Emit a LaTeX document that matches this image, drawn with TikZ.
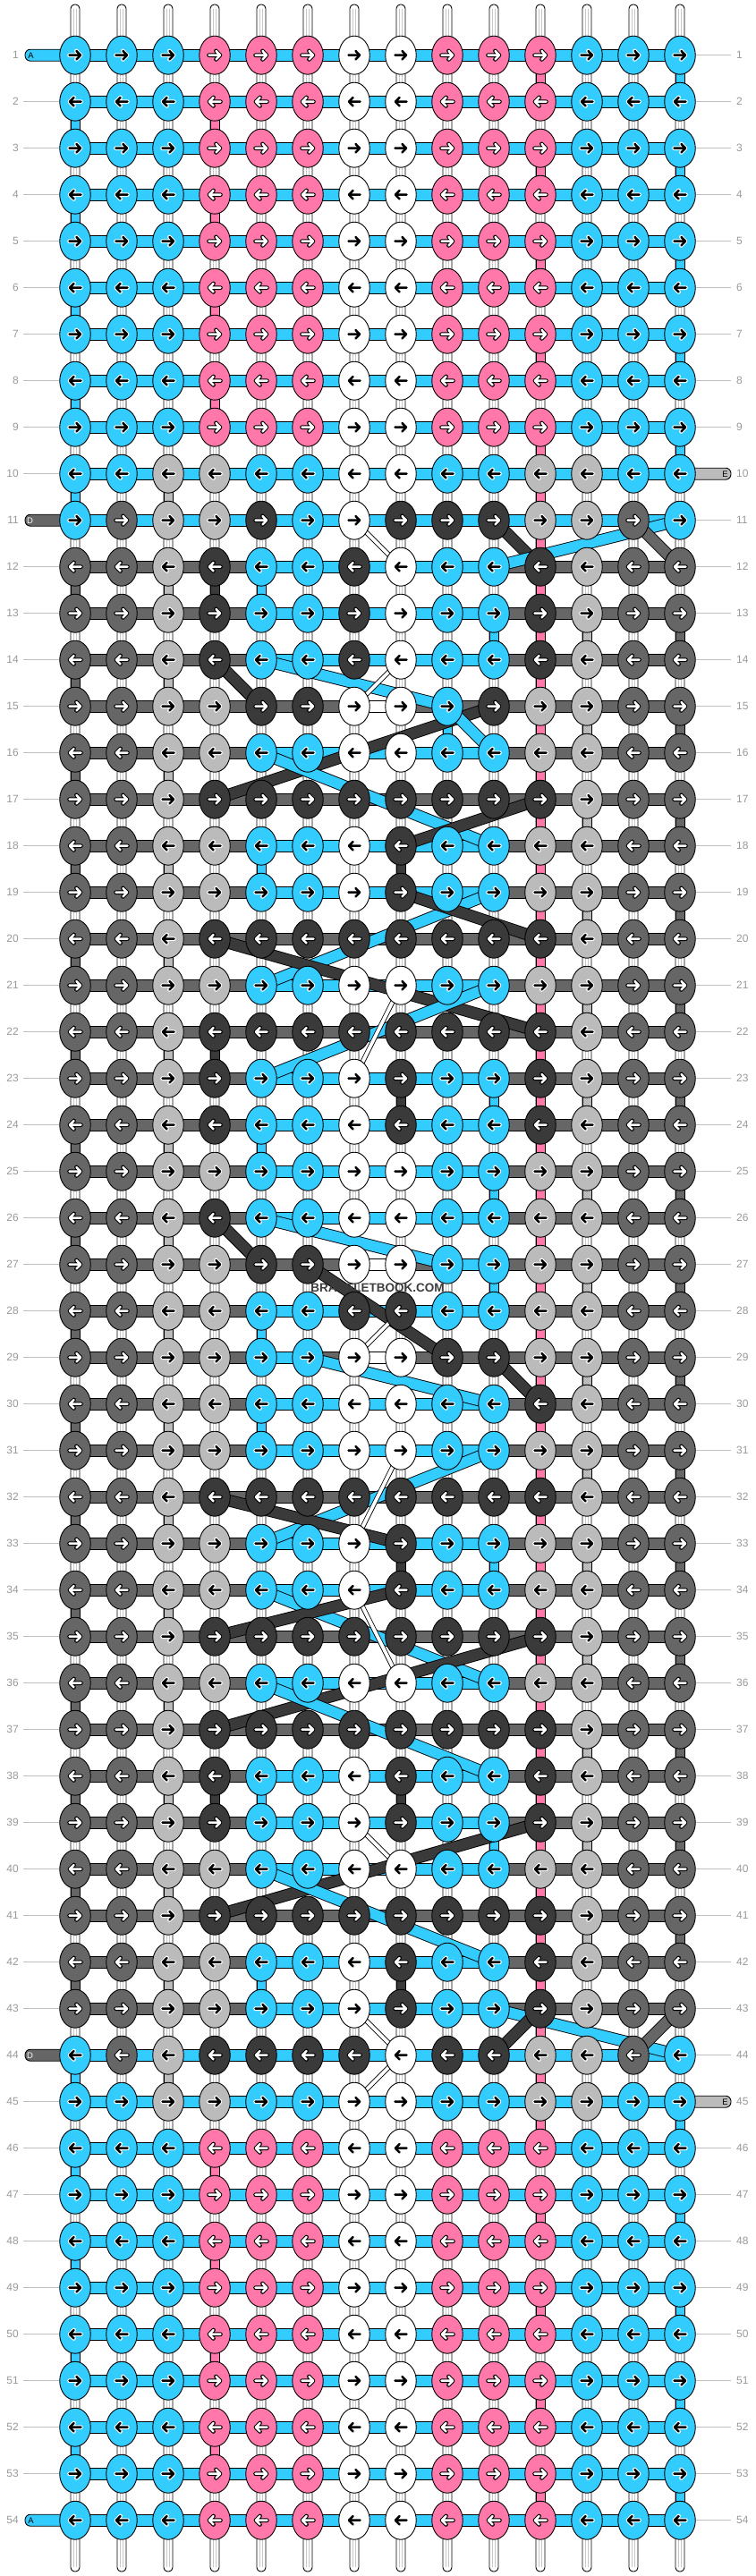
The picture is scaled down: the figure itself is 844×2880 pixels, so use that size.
\documentclass[tikz,border=0pt]{standalone}
\usepackage{fontspec}
\setmainfont{Liberation Sans}
\usetikzlibrary{shapes.geometric}
\definecolor{cB}{HTML}{33CCFF}
\definecolor{cP}{HTML}{FF78A9}
\definecolor{cW}{HTML}{FFFFFF}
\definecolor{cL}{HTML}{BBBBBB}
\definecolor{cM}{HTML}{666666}
\definecolor{cD}{HTML}{3A3A3A}
\colorlet{aB}{black}\colorlet{aW}{black}\colorlet{aL}{black}
\colorlet{aP}{white}\colorlet{aM}{white}\colorlet{aD}{white}
\colorlet{oB}{white}\colorlet{oW}{white}\colorlet{oL}{white}
\colorlet{oP}{black}\colorlet{oM}{black}\colorlet{oD}{black}
\definecolor{lbl}{HTML}{999999}
\definecolor{lln}{HTML}{BFBFBF}
\definecolor{vln}{HTML}{C8C8C8}
\definecolor{wm}{HTML}{3C3C3C}
\pgfdeclarelayer{paper}
\pgfdeclarelayer{strings}
\pgfdeclarelayer{diag}
\pgfsetlayers{paper,strings,diag,main}
\def\WW{W}
\begin{document}
\begin{tikzpicture}[x=1pt,y=-1pt,
  knot/.style={ellipse, draw=black, line width=0.9pt, minimum width=34.5pt, minimum height=43pt, inner sep=0pt},
  arr/.style={line cap=round, line join=round},
  seg/.style={draw=black, line width=0.9pt},
  lblnode/.style={text=lbl, font=\fontsize{12}{12}\selectfont, inner sep=0pt},
  lblline/.style={draw=lln, line width=1pt},
  endletter/.style={font=\fontsize{9.5}{9.5}\selectfont, inner sep=0pt}]
\useasboundingbox (0,0) rectangle (844,2880);
\begin{pgfonlayer}{paper}
\fill[white] (0,0) rectangle (844,2880);
\end{pgfonlayer}
% ---------------- knots ----------------
\foreach \r/\row/\hs in {
1/{B,B,B,P,P,P,W,W,P,P,P,B,B,B}/{B,B,B,B,B,B,B,B,B,B,B,B,B},
2/{B,B,B,P,P,P,W,W,P,P,P,B,B,B}/{B,B,B,B,B,B,B,B,B,B,B,B,B},
3/{B,B,B,P,P,P,W,W,P,P,P,B,B,B}/{B,B,B,B,B,B,B,B,B,B,B,B,B},
4/{B,B,B,P,P,P,W,W,P,P,P,B,B,B}/{B,B,B,B,B,B,B,B,B,B,B,B,B},
5/{B,B,B,P,P,P,W,W,P,P,P,B,B,B}/{B,B,B,B,B,B,B,B,B,B,B,B,B},
6/{B,B,B,P,P,P,W,W,P,P,P,B,B,B}/{B,B,B,B,B,B,B,B,B,B,B,B,B},
7/{B,B,B,P,P,P,W,W,P,P,P,B,B,B}/{B,B,B,B,B,B,B,B,B,B,B,B,B},
8/{B,B,B,P,P,P,W,W,P,P,P,B,B,B}/{B,B,B,B,B,B,B,B,B,B,B,B,B},
9/{B,B,B,P,P,P,W,W,P,P,P,B,B,B}/{B,B,B,B,B,B,B,B,B,B,B,B,B},
10/{B,B,L,L,B,B,W,W,B,B,L,L,B,B}/{B,B,B,B,B,B,B,B,B,B,B,B,B},
11/{B,M,L,L,D,B,W,D,D,D,L,L,M,B}/{B,B,B,B,B,B,B,B,B,B,B,B,B},
12/{M,M,L,D,B,B,D,W,B,B,D,L,M,M}/{M,M,M,M,B,B,B,B,B,M,M,M,M},
13/{M,M,L,D,B,B,D,W,B,B,D,L,M,M}/{M,M,M,M,B,B,B,B,B,M,M,M,M},
14/{M,M,L,D,B,B,D,W,B,B,D,L,M,M}/{M,M,M,M,B,B,B,B,B,M,M,M,M},
15/{M,M,L,L,D,D,W,W,B,D,L,L,M,M}/{M,M,M,M,M,M,W,M,M,M,M,M,M},
16/{M,M,L,L,B,B,W,W,B,B,L,L,M,M}/{M,M,M,M,B,B,B,B,B,M,M,M,M},
17/{M,M,L,D,D,D,D,D,D,D,D,L,M,M}/{M,M,M,M,M,M,M,M,M,M,M,M,M},
18/{M,M,L,L,B,B,W,D,B,B,L,L,M,M}/{M,M,M,M,B,B,B,B,B,M,M,M,M},
19/{M,M,L,L,B,B,W,D,B,B,L,L,M,M}/{M,M,M,M,B,B,B,B,B,M,M,M,M},
20/{M,M,L,D,D,D,D,D,D,D,D,L,M,M}/{M,M,M,M,M,M,M,M,M,M,M,M,M},
21/{M,M,L,L,B,B,W,W,B,B,L,L,M,M}/{M,M,M,M,B,B,B,B,B,M,M,M,M},
22/{M,M,L,D,D,D,D,D,D,D,D,L,M,M}/{M,M,M,M,M,M,M,M,M,M,M,M,M},
23/{M,M,L,D,B,B,W,D,B,B,D,L,M,M}/{M,M,M,M,B,B,B,B,B,M,M,M,M},
24/{M,M,L,D,B,B,W,D,B,B,D,L,M,M}/{M,M,M,M,B,B,B,B,B,M,M,M,M},
25/{M,M,L,L,B,B,W,W,B,B,L,L,M,M}/{M,M,M,M,B,B,B,B,B,M,M,M,M},
26/{M,M,L,D,B,B,W,W,B,B,L,L,M,M}/{M,M,M,M,B,B,B,B,B,M,M,M,M},
27/{M,M,L,L,D,D,W,W,B,B,L,L,M,M}/{M,M,M,M,M,M,W,M,B,M,M,M,M},
28/{M,M,L,L,B,B,D,D,B,B,L,L,M,M}/{M,M,M,M,B,B,B,B,B,M,M,M,M},
29/{M,M,L,L,B,B,W,W,D,D,L,L,M,M}/{M,M,M,M,B,M,W,M,M,M,M,M,M},
30/{M,M,L,L,B,B,W,W,B,B,D,L,M,M}/{M,M,M,M,B,B,B,B,B,M,M,M,M},
31/{M,M,L,L,B,B,W,W,B,B,L,L,M,M}/{M,M,M,M,B,B,B,B,B,M,M,M,M},
32/{M,M,L,D,D,D,D,D,D,D,D,L,M,M}/{M,M,M,M,M,M,M,M,M,M,M,M,M},
33/{M,M,L,L,B,B,W,D,B,B,L,L,M,M}/{M,M,M,M,B,B,B,B,B,M,M,M,M},
34/{M,M,L,L,B,B,W,D,B,B,L,L,M,M}/{M,M,M,M,B,B,B,B,B,M,M,M,M},
35/{M,M,L,D,D,D,D,D,D,D,D,L,M,M}/{M,M,M,M,M,M,M,M,M,M,M,M,M},
36/{M,M,L,L,B,B,W,W,B,B,L,L,M,M}/{M,M,M,M,B,B,B,B,B,M,M,M,M},
37/{M,M,L,D,D,D,D,D,D,D,D,L,M,M}/{M,M,M,M,M,M,M,M,M,M,M,M,M},
38/{M,M,L,D,B,B,W,D,B,B,D,L,M,M}/{M,M,M,M,B,B,B,B,B,M,M,M,M},
39/{M,M,L,D,B,B,W,D,B,B,D,L,M,M}/{M,M,M,M,B,B,B,B,B,M,M,M,M},
40/{M,M,L,L,B,B,W,W,B,B,L,L,M,M}/{M,M,M,M,B,B,B,B,B,M,M,M,M},
41/{M,M,L,D,D,D,D,D,D,D,D,L,M,M}/{M,M,M,M,M,M,M,M,M,M,M,M,M},
42/{M,M,L,L,B,B,W,D,B,B,D,L,M,M}/{M,M,M,M,B,B,B,B,B,M,M,M,M},
43/{M,M,L,L,B,B,W,D,B,B,D,L,M,M}/{M,M,M,M,B,B,B,B,B,M,M,M,M},
44/{B,M,L,D,D,D,D,W,D,D,L,L,M,B}/{B,B,B,B,B,B,B,B,B,B,B,B,B},
45/{B,B,L,L,B,B,W,W,B,B,L,L,B,B}/{B,B,B,B,B,B,B,B,B,B,B,B,B},
46/{B,B,B,P,P,P,W,W,P,P,P,B,B,B}/{B,B,B,B,B,B,B,B,B,B,B,B,B},
47/{B,B,B,P,P,P,W,W,P,P,P,B,B,B}/{B,B,B,B,B,B,B,B,B,B,B,B,B},
48/{B,B,B,P,P,P,W,W,P,P,P,B,B,B}/{B,B,B,B,B,B,B,B,B,B,B,B,B},
49/{B,B,B,P,P,P,W,W,P,P,P,B,B,B}/{B,B,B,B,B,B,B,B,B,B,B,B,B},
50/{B,B,B,P,P,P,W,W,P,P,P,B,B,B}/{B,B,B,B,B,B,B,B,B,B,B,B,B},
51/{B,B,B,P,P,P,W,W,P,P,P,B,B,B}/{B,B,B,B,B,B,B,B,B,B,B,B,B},
52/{B,B,B,P,P,P,W,W,P,P,P,B,B,B}/{B,B,B,B,B,B,B,B,B,B,B,B,B},
53/{B,B,B,P,P,P,W,W,P,P,P,B,B,B}/{B,B,B,B,B,B,B,B,B,B,B,B,B},
54/{B,B,B,P,P,P,W,W,P,P,P,B,B,B}/{B,B,B,B,B,B,B,B,B,B,B,B,B}}{%
  \expandafter\xdef\csname hs-\r\endcsname{\hs}%
  \pgfmathsetmacro\yy{61.7+52*(\r-1)}%
  \ifodd\r\relax \def\dir{1}\else \def\dir{-1}\fi
  \foreach \k [count=\c] in \row {%
    \pgfmathsetmacro\xx{84+52*(\c-1)}%
    \expandafter\xdef\csname kc-\r-\c\endcsname{\k}%
    \node[knot, fill=c\k] (k-\r-\c) at (\xx,\yy) {};
    \begin{scope}[shift={(\xx,\yy)}, xscale=\dir]
      \draw[arr, draw=o\k, line width=4.6pt] (-6.5,0) -- (6,0) (1.4,-4.8) -- (6,0) -- (1.4,4.8);
      \draw[arr, draw=a\k, line width=2.5pt] (-6.5,0) -- (6,0) (1.4,-4.8) -- (6,0) -- (1.4,4.8);
    \end{scope}
  }%
}
% ---------------- background strings ----------------
\begin{pgfonlayer}{strings}
% vertical strings (full length)
\foreach \c in {1,...,14}{%
  \draw[fill=white, draw=black, line width=0.9pt, rounded corners=4.5pt]
    ([xshift=-5pt,yshift=56.7pt]k-1-\c.center) rectangle ([xshift=5pt,yshift=-57.3pt]k-54-\c.center);
  \draw[draw=vln, line width=0.8pt]
    ([xshift=-1.7pt,yshift=52pt]k-1-\c.center) -- ([xshift=-1.7pt,yshift=-52pt]k-54-\c.center)
    ([xshift=1.7pt,yshift=52pt]k-1-\c.center) -- ([xshift=1.7pt,yshift=-52pt]k-54-\c.center);
}
% solid vertical segments
\foreach \r in {1,...,53}{%
  \pgfmathtruncatemacro\rn{\r+1}%
  \foreach \c in {1,...,14}{%
    \pgfmathtruncatemacro\cp{\c-1}%
    \pgfmathtruncatemacro\cn{\c+1}%
    \edef\X{\csname kc-\r-\c\endcsname}%
    \edef\Y{\csname kc-\rn-\c\endcsname}%
    \def\sc{N}%
    \ifx\X\Y
      \ifx\X\WW\else
        \ifodd\r\relax
          \ifnum\c>8\relax
            \ifnum\r=11\relax\else\ifnum\r=43\relax\else
              \ifnum\c=14\relax \edef\sc{\X}\else
                \edef\NN{\csname kc-\r-\cn\endcsname}%
                \ifx\NN\X\else\edef\sc{\X}\fi
              \fi
            \fi\fi
          \fi
        \else
          \ifnum\c<7\relax
            \ifnum\c=1\relax \edef\sc{\X}\else
              \edef\NN{\csname kc-\r-\cp\endcsname}%
              \ifx\NN\X\else\edef\sc{\X}\fi
            \fi
          \fi
        \fi
      \fi
    \fi
    \ifnum\c=11\relax \ifnum\r>8\relax \ifnum\r<46\relax \def\sc{P}\fi\fi\fi
    \ifnum\c=8\relax
      \ifnum\r=18\relax \def\sc{D}\fi
      \ifnum\r=23\relax \def\sc{D}\fi
      \ifnum\r=33\relax \def\sc{D}\fi
      \ifnum\r=38\relax \def\sc{D}\fi
      \ifnum\r=42\relax \def\sc{D}\fi
    \fi
    \if N\sc\else
      \draw[seg, fill=c\sc] ([xshift=-5pt]k-\r-\c.center) rectangle ([xshift=5pt]k-\rn-\c.center);
    \fi
  }%
}
% horizontal segments
\foreach \r in {1,...,54}{%
  \edef\hl{\csname hs-\r\endcsname}%
  \foreach \h [count=\c] in \hl {%
    \pgfmathtruncatemacro\cn{\c+1}%
    \draw[seg, fill=c\h] ([yshift=6.5pt]k-\r-\c.center) rectangle ([yshift=-6.5pt]k-\r-\cn.center);
  }%
}
% string ends
\coordinate (eA1) at (28,61.7);
\coordinate (eA54) at (28,2817.7);
\coordinate (eD11) at (28,581.7);
\coordinate (eD44) at (28,2297.7);
\coordinate (eE10) at (817,529.7);
\coordinate (eE45) at (817,2349.7);
\draw[seg, fill=cB, rounded corners=6pt] ([yshift=6.5pt]eA1) rectangle ([yshift=-6.5pt]k-1-1.center);
\draw[seg, fill=cB, rounded corners=6pt] ([yshift=6.5pt]eA54) rectangle ([yshift=-6.5pt]k-54-1.center);
\draw[seg, fill=cM, rounded corners=6pt] ([yshift=6.5pt]eD11) rectangle ([yshift=-6.5pt]k-11-1.center);
\draw[seg, fill=cM, rounded corners=6pt] ([yshift=6.5pt]eD44) rectangle ([yshift=-6.5pt]k-44-1.center);
\draw[seg, fill=cL, rounded corners=6pt] ([yshift=6.5pt]k-10-14.center) rectangle ([yshift=-6.5pt]eE10);
\draw[seg, fill=cL, rounded corners=6pt] ([yshift=6.5pt]k-45-14.center) rectangle ([yshift=-6.5pt]eE45);
\node[endletter] (tA1) at (34.5,62) {A};
\node[endletter] (tA54) at (34.5,2818) {A};
\node[endletter, text=white] (tD11) at (33.5,582) {D};
\node[endletter, text=white] (tD44) at (33.5,2298) {D};
\node[endletter] (tE10) at (810.5,530) {E};
\node[endletter] (tE45) at (810.5,2350) {E};
\end{pgfonlayer}
% ---------------- diagonal string changes ----------------
\begin{pgfonlayer}{diag}
\foreach \t/\ra/\ca/\rb/\cb in {
  D/11/10/12/11, B/11/14/12/10, M/11/13/12/14, W/11/7/12/8,
  D/14/4/15/5, B/14/5/15/9, W/14/8/15/7,
  D/15/10/17/4, B/15/9/16/10,
  B/16/5/18/10, D/17/11/18/8,
  B/19/10/21/5, D/19/8/20/11, D/20/4/22/11,
  B/21/10/23/5, W/21/8/23/7,
  D/26/4/27/5, B/26/5/27/9, D/27/6/29/9, W/28/8/29/7,
  D/29/10/30/11, B/29/6/30/10,
  B/31/10/33/5, W/31/8/33/7, D/32/4/33/8,
  B/34/5/36/10, D/34/8/35/4, W/34/7/36/8,
  D/35/11/37/4, B/36/5/38/10,
  D/39/11/41/4, W/39/7/40/8, B/40/5/42/10,
  B/43/10/44/14, D/43/11/44/10, M/43/14/44/13,
  W/43/7/44/8, W/44/8/45/7}{%
  \if W\t
    \draw[black, line width=5.4pt] (k-\ra-\ca.center) -- (k-\rb-\cb.center);
    \draw[white, line width=3.8pt] (k-\ra-\ca.center) -- (k-\rb-\cb.center);
  \else
    \draw[black, line width=13.5pt] (k-\ra-\ca.center) -- (k-\rb-\cb.center);
    \draw[c\t, line width=11.7pt] (k-\ra-\ca.center) -- (k-\rb-\cb.center);
  \fi
}
\end{pgfonlayer}
% ---------------- row labels ----------------
\foreach \r in {1,...,54}{%
  \pgfmathsetmacro\yy{61.7+52*(\r-1)}%
  \node[lblnode, anchor=east] (ll-\r) at (21,\yy) {\r};
  \node[lblnode, anchor=west] (rl-\r) at (823,\yy) {\r};
}
\foreach \r in {2,...,10,12,13,...,43,45,46,...,53}{%
  \draw[lblline] ([xshift=5pt]ll-\r.east) -- (k-\r-1.west);
}
\foreach \r in {1,...,9,11,12,...,44,46,47,...,54}{%
  \draw[lblline] (k-\r-14.east) -- ([xshift=-6pt]rl-\r.west);
}
% watermark
\node[text=wm, font=\bfseries\fontsize{13.5}{13.5}\selectfont, inner sep=0pt] (wmk) at (422,1439.7) {BRACELETBOOK.COM};
\end{tikzpicture}
\end{document}
